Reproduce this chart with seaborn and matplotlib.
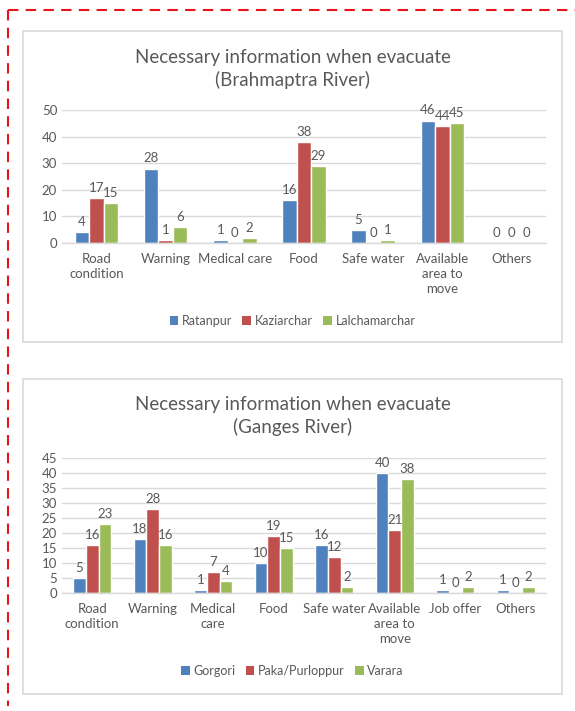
import numpy as np
import pandas as pd
import matplotlib
matplotlib.use("Agg")
import matplotlib.pyplot as plt
import seaborn as sns
from matplotlib.patches import Rectangle
from matplotlib.lines import Line2D

# ---------------- data ----------------
top_title = "Necessary information when evacuate\n(Brahmaptra River)"
top_categories = ["Road\ncondition", "Warning", "Medical care", "Food",
                  "Safe water", "Available\narea to\nmove", "Others"]
top_series = ["Ratanpur", "Kaziarchar", "Lalchamarchar"]
ratanpur = [4, 28, 1, 16, 5, 46, 0]
kaziarchar = [17, 1, 0, 38, 0, 44, 0]
lalchamarchar = [15, 6, 2, 29, 1, 45, 0]
top_yticks = [0, 10, 20, 30, 40, 50]

bottom_title = "Necessary information when evacuate\n(Ganges River)"
bottom_categories = ["Road\ncondition", "Warning", "Medical\ncare", "Food",
                     "Safe water", "Available\narea to\nmove", "Job offer", "Others"]
bottom_series = ["Gorgori", "Paka/Purloppur", "Varara"]
gorgori = [5, 18, 1, 10, 16, 40, 1, 1]
paka = [16, 28, 7, 19, 12, 21, 0, 0]
varara = [23, 16, 4, 15, 2, 38, 2, 2]
bottom_yticks = [0, 5, 10, 15, 20, 25, 30, 35, 40, 45]

colors = ["#4F81BD", "#C0504D", "#9BBB59"]
TEXT = "#595959"

sns.set_style("white")
plt.rcParams["font.family"] = ["Lato", "DejaVu Sans"]

W, H = 575, 711
fig = plt.figure(figsize=(W / 100, H / 100), dpi=100)


def fx(x):
    return x / W


def fy(y):
    return 1 - y / H


# red dashed frame
fig.add_artist(Line2D([fx(8), fx(575)], [fy(10), fy(10)], color="#E8141B", lw=1.5,
                      linestyle=(0, (5, 3.5)), transform=fig.transFigure))
fig.add_artist(Line2D([fx(8), fx(8)], [fy(10), fy(706)], color="#E8141B", lw=1.5,
                      linestyle=(0, (5, 3.5)), transform=fig.transFigure))


def make_chart(box, axbox, title, title_y, cats, series, values, yticks, legend_y):
    x0, y0, x1, y1 = box
    fig.add_artist(Rectangle((fx(x0), fy(y1)), fx(x1 - x0), (y1 - y0) / H,
                             transform=fig.transFigure, facecolor="white",
                             edgecolor="#D9D9D9", lw=1.2, zorder=-10))
    ax0, ay0, ax1, ay1 = axbox
    ax = fig.add_axes([fx(ax0), fy(ay1), fx(ax1 - ax0), (ay1 - ay0) / H])
    rows = []
    for s, vals in zip(series, values):
        for c, v in zip(cats, vals):
            rows.append({"cat": c, "series": s, "value": v})
    df = pd.DataFrame(rows)
    sns.barplot(data=df, x="cat", y="value", hue="series", order=cats,
                hue_order=series, palette=colors, width=0.63, ax=ax,
                edgecolor="white", linewidth=1.0, saturation=1)
    for cont in ax.containers:
        ax.bar_label(cont, fmt="%d", padding=3, fontsize=9.5, color=TEXT)
    ax.set_ylim(0, yticks[-1])
    ax.set_yticks(yticks)
    ax.set_xlim(-0.5, len(cats) - 0.5)
    ax.set_xlabel("")
    ax.set_ylabel("")
    ax.yaxis.grid(True, color="#D9D9D9", lw=1)
    ax.set_axisbelow(True)
    for sp in ["top", "right", "left"]:
        ax.spines[sp].set_visible(False)
    ax.spines["bottom"].set_color("#D9D9D9")
    ax.spines["bottom"].set_linewidth(1)
    ax.tick_params(axis="both", length=0, colors=TEXT, labelsize=9.5)
    ax.tick_params(axis="x", pad=7)
    for lab in ax.get_xticklabels():
        lab.set_linespacing(1.3)
    ax.patch.set_alpha(0)
    ax.legend_.remove()
    handles = [Rectangle((0, 0), 1, 1, facecolor=c, edgecolor="none") for c in colors]
    fig.legend(handles, series, loc="center", bbox_to_anchor=(fx((x0 + x1) / 2), fy(legend_y)),
               ncol=3, frameon=False, handlelength=0.7, handleheight=0.7,
               handletextpad=0.3, columnspacing=0.8, fontsize=9, labelcolor=TEXT)
    fig.text(fx((x0 + x1) / 2), fy(title_y), title, ha="center", va="center",
             fontsize=13.5, color=TEXT, linespacing=1.3)
    return ax


make_chart((23, 31, 562, 342), (62, 110, 546, 243), top_title, 69,
           top_categories, top_series, [ratanpur, kaziarchar, lalchamarchar],
           top_yticks, 321)
make_chart((23, 379, 562, 694), (62, 458, 546, 593), bottom_title, 416,
           bottom_categories, bottom_series, [gorgori, paka, varara],
           bottom_yticks, 671)

fig.savefig("out.png", dpi=100)
